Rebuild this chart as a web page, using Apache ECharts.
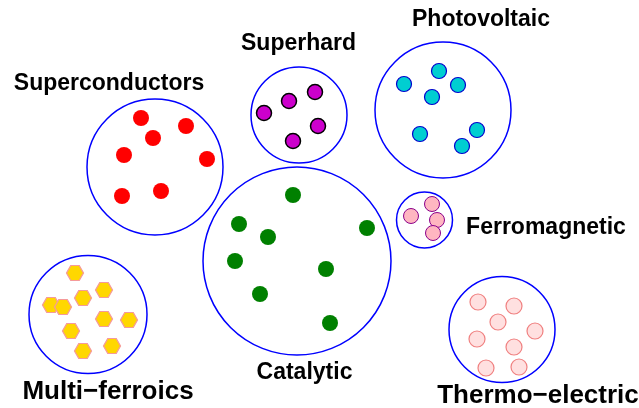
<!DOCTYPE html>
<html>
<head>
<meta charset="utf-8">
<script src="https://cdn.jsdelivr.net/npm/echarts@6/dist/echarts.min.js"></script>
<style>
  html, body { margin: 0; padding: 0; background: #fff; }
  #main { width: 639px; height: 408px; }
</style>
</head>
<body>
<div id="main"></div>
<script>
// material classes: circle centre and radius (diagram units, y grows downward)
var groups = ['Superconductors', 'Superhard', 'Photovoltaic', 'Ferromagnetic', 'Catalytic', 'Multi\u2212ferroics', 'Thermo\u2212electric'];
var groupX = [155, 299, 443, 424.5, 297, 88, 502];
var groupY = [167, 115, 110, 220, 261, 314.5, 329.5];
var groupR = [68, 48, 68, 28, 94, 59, 53];

// where each class name sits
var labelX = [109, 298.5, 481, 546, 304.5, 108, 538];
var labelY = [84, 44, 20, 227.5, 373, 391.5, 396];

// members of each class
var superconX = [141, 186, 153, 124, 207, 122, 161];
var superconY = [118, 126, 138, 155, 159, 196, 191];
var superhardX = [264, 289, 315, 318, 293];
var superhardY = [113, 101, 92, 126, 141];
var photoX = [404, 439, 458, 432, 420, 477, 462];
var photoY = [84, 71, 85, 97, 134, 130, 146];
var ferroX = [411, 432, 437, 433];
var ferroY = [216, 204, 220, 233];
var catalX = [293, 239, 268, 367, 235, 326, 260, 330];
var catalY = [195, 224, 237, 228, 261, 269, 294, 323];
var multiX = [75, 104, 83, 51, 63, 104, 129, 71, 112, 83];
var multiY = [273, 290, 298, 305, 307, 319, 320, 331, 346, 351];
var thermoX = [478, 514, 498, 535, 477, 514, 486, 519];
var thermoY = [302, 306, 322, 331, 339, 347, 368, 367];

function pairs(xs, ys) {
    return xs.map(function (x, i) { return [x, ys[i]]; });
}

var myChart = echarts.init(document.getElementById('main'));

var hexagon = 'path://M0,7.5 L4.25,0 L12.75,0 L17,7.5 L12.75,15 L4.25,15 Z';

function dots(data, symbol, size, fill, border, bw) {
    return {
        type: 'scatter',
        data: data,
        symbol: symbol,
        symbolSize: size,
        z: 3,
        itemStyle: {
            color: fill,
            borderColor: border,
            borderWidth: bw,
            opacity: 1
        },
        emphasis: { disabled: true }
    };
}

option = {
    animation: false,
    backgroundColor: '#ffffff',
    grid: { left: 0, right: 0, top: 0, bottom: 0 },
    xAxis: { type: 'value', min: 0, max: 639, show: false },
    yAxis: { type: 'value', min: 0, max: 408, inverse: true, show: false },
    series: [
        {
            type: 'custom',
            z: 2,
            data: groups.map(function (g, i) { return [groupX[i], groupY[i], groupR[i]]; }),
            renderItem: function (params, api) {
                var c = api.coord([api.value(0), api.value(1)]);
                var s = api.size([api.value(2), api.value(2)]);
                return {
                    type: 'circle',
                    shape: { cx: c[0], cy: c[1], r: s[0] },
                    style: { fill: 'none', stroke: '#0000ff', lineWidth: 1.5 }
                };
            }
        },
        dots(pairs(superconX, superconY), 'circle', 16, '#ff0000', '#ff0000', 0),
        dots(pairs(superhardX, superhardY), 'circle', 15, '#cc00cc', '#000000', 1.5),
        dots(pairs(photoX, photoY), 'circle', 15, '#00ced1', '#0000cd', 1.2),
        dots(pairs(ferroX, ferroY), 'circle', 15, '#ffb6c1', '#8b008b', 1),
        dots(pairs(catalX, catalY), 'circle', 16, '#008000', '#008000', 0),
        dots(pairs(multiX, multiY), hexagon, [17, 15], '#ffd700', '#f59a9a', 1.2),
        dots(pairs(thermoX, thermoY), 'circle', 16, '#ffe0e0', '#f08080', 1.2),
        {
            type: 'scatter',
            symbolSize: 0,
            z: 4,
            itemStyle: { opacity: 1 },
            data: groups.map(function (g, i) {
                return {
                    name: g,
                    value: [labelX[i], labelY[i]],
                    label: { fontSize: i >= 5 ? 26 : 23 }
                };
            }),
            label: {
                show: true,
                position: 'inside',
                formatter: '{b}',
                color: '#000000',
                opacity: 1,
                textBorderWidth: 0,
                fontWeight: 'bold',
                fontFamily: 'Liberation Sans'
            },
            emphasis: { disabled: true }
        }
    ]
};
myChart.setOption(option);
</script>
</body>
</html>
